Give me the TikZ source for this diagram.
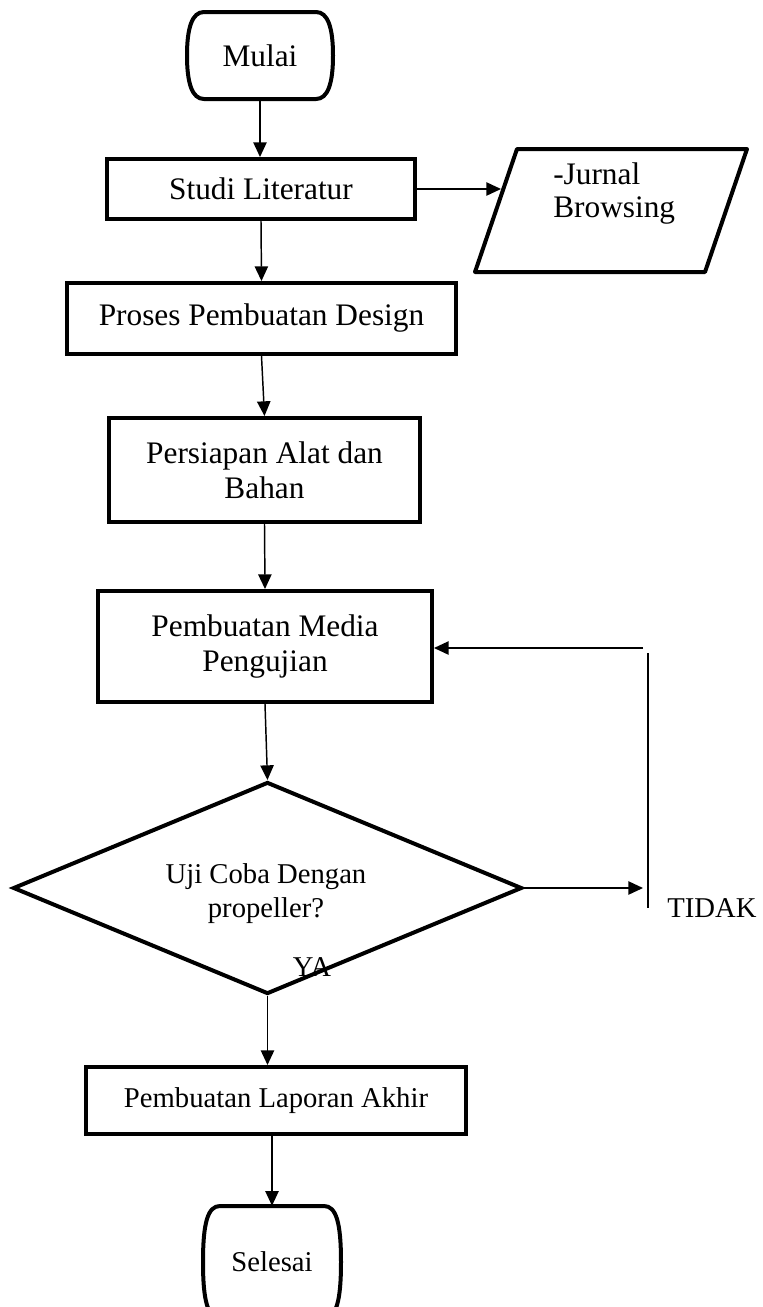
\documentclass[tikz,border=0pt]{standalone}
\usepackage{fontspec}
\setmainfont{Liberation Serif}
\usetikzlibrary{arrows.meta,shapes.geometric}
\newdimen\pxu \pxu=0.75pt
\tikzset{
  x=0.75pt, y=-0.75pt,
  bigtext/.style={font=\fontsize{23.5}{26.25}\selectfont},
  smalltext/.style={font=\fontsize{21.5}{25.5}\selectfont},
  txt/.style={inner sep=0pt, align=center},
  box/.style={draw, line width=3pt, bigtext, align=center, inner sep=0pt},
  arr/.style={line width=1.1pt, -{Triangle[length=11pt,width=10pt]}},
  plainline/.style={line width=1.1pt},
  shapeline/.style={line width=3pt, line join=round},
}
\newcommand\termoutline[4]{%
  \draw[shapeline] (#1+17,#3) -- (#2-17,#3)
    .. controls (#2-5,#3) and (#2,#3+16) .. (#2,{(#3+#4)/2})
    .. controls (#2,#4-16) and (#2-5,#4) .. (#2-17,#4)
    -- (#1+17,#4)
    .. controls (#1+5,#4) and (#1,#4-16) .. (#1,{(#3+#4)/2})
    .. controls (#1,#3+16) and (#1+5,#3) .. cycle;}
\begin{document}
\begin{tikzpicture}
\useasboundingbox (0,0) rectangle (763,1307);

% terminals
\node[txt, bigtext, minimum width=146\pxu, minimum height=87\pxu] (mulai) at (260,55.5) {Mulai};
\termoutline{187}{333}{12}{99}
\node[txt, smalltext, minimum width=138\pxu, minimum height=112\pxu] (selesai) at (272,1262) {Selesai};
\termoutline{203}{341}{1206}{1318}

% process boxes
\node[box, minimum width=308\pxu, minimum height=60\pxu] (studi) at (261,189) {Studi Literatur};
\node[box, minimum width=389\pxu, minimum height=71\pxu] (proses) at (261.5,318.5) {Proses Pembuatan Design};
\node[box, minimum width=311\pxu, minimum height=104\pxu] (persiapan) at (264.5,470) {Persiapan Alat dan\\Bahan};
\node[box, minimum width=334\pxu, minimum height=111\pxu] (media) at (265,646.5) {Pembuatan Media\\Pengujian};
\node[box, smalltext, minimum width=380\pxu, minimum height=67\pxu] (laporan) at (276,1100.5) {Pembuatan Laporan Akhir};

% input/output parallelogram
\draw[shapeline] (475,272) -- (705,272) -- (747,149) -- (517,149) -- cycle;
\node[txt, align=left, anchor=west, font=\fontsize{23.5}{24.75}\selectfont] (jurnal) at (553,193.5) {-Jurnal\\Browsing};
\coordinate (jin) at (501,189);

% decision
\node[draw, diamond, line width=3pt, inner sep=0pt, minimum width=509\pxu, minimum height=212\pxu] (uji) at (267.5,888) {};
\node[txt, smalltext] (ujitext) at (266,894) {Uji Coba Dengan\\propeller?};
\node[txt, smalltext] (ya) at (312,967) {YA};
\node[txt, smalltext] (tidak) at (712,908) {TIDAK};

% feedback coordinates
\coordinate (fbstart) at (643,648);
\coordinate (vtop) at (648,653);
\coordinate (vbot) at (648,908);
\coordinate (noend) at (643,888);

% connectors
\draw[arr] (mulai.south) -- (studi.north -| mulai.south);
\draw[arr] (studi.east) -- (jin);
\draw[arr] (studi.south) -- (proses.north);
\draw[arr] (proses.south) -- (persiapan.north);
\draw[arr] (persiapan.south) -- (media.north);
\draw[arr] (media.south) -- (uji.north);
\draw[arr] (uji.east) -- (noend);
\draw[plainline] (vtop) -- (vbot);
\draw[arr] (fbstart) -- (media.east |- fbstart);
\draw[arr] (uji.south) -- (uji.south |- laporan.north);
\draw[arr] (selesai.north |- laporan.south) -- (selesai.north);
\end{tikzpicture}
\end{document}
